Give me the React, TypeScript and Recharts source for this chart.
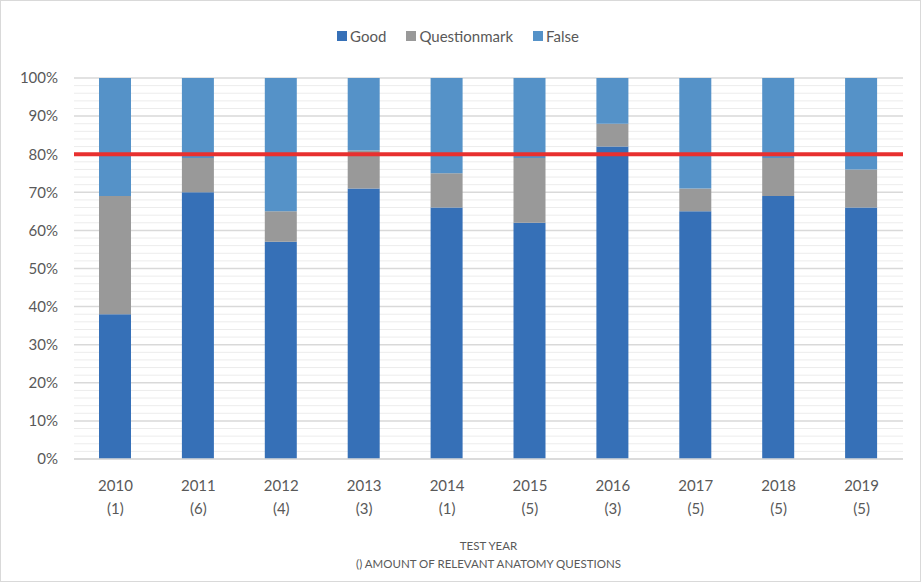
import {
  Bar,
  BarChart,
  CartesianGrid,
  Label,
  Legend,
  ReferenceLine,
  XAxis,
  YAxis,
} from "recharts";

const YEARS = ["2010", "2011", "2012", "2013", "2014", "2015", "2016", "2017", "2018", "2019"];
const QUESTION_COUNTS = ["(1)", "(6)", "(4)", "(3)", "(1)", "(5)", "(3)", "(5)", "(5)", "(5)"];
const GOOD = [38, 70, 57, 71, 66, 62, 82, 65, 69, 66];
const QUESTIONMARK = [31, 9, 8, 10, 9, 17, 6, 6, 10, 10];
const FALSE_PCT = [31, 21, 35, 19, 25, 21, 12, 29, 21, 24];
const Y_TICKS = [0, 10, 20, 30, 40, 50, 60, 70, 80, 90, 100];
const MINOR_TICKS = [2, 4, 6, 8, 12, 14, 16, 18, 22, 24, 26, 28, 32, 34, 36, 38, 42, 44, 46, 48, 52, 54, 56, 58, 62, 64, 66, 68, 72, 74, 76, 78, 82, 84, 86, 88, 92, 94, 96, 98];
const TARGET = 80;

const SERIES = [
  { key: "Good", color: "#3670b7" },
  { key: "Questionmark", color: "#999999" },
  { key: "False", color: "#5592c8" },
];

const FONT = "Lato, 'Open Sans', sans-serif";
const TEXT_COLOR = "#595959";

const data = YEARS.map((year, i) => ({
  year,
  count: QUESTION_COUNTS[i],
  Good: GOOD[i],
  Questionmark: QUESTIONMARK[i],
  False: FALSE_PCT[i],
}));

function YearTick({ x, y, payload, index }: any) {
  return (
    <g transform={`translate(${x},${y})`}>
      <text textAnchor="middle" fontSize={15} fill={TEXT_COLOR} fontFamily={FONT}>
        <tspan x={0} dy={24}>{payload.value}</tspan>
        <tspan x={0} dy={23}>{QUESTION_COUNTS[index]}</tspan>
      </text>
    </g>
  );
}

function AxisTitle({ viewBox }: any) {
  const cx = viewBox.x + viewBox.width / 2;
  return (
    <text textAnchor="middle" fontSize={11.5} fill={TEXT_COLOR} fontFamily={FONT}>
      <tspan x={cx} y={viewBox.y + 91}>TEST YEAR</tspan>
      <tspan x={cx} y={viewBox.y + 109}>() AMOUNT OF RELEVANT ANATOMY QUESTIONS</tspan>
    </text>
  );
}

function LegendContent() {
  return (
    <div
      style={{
        display: "flex",
        justifyContent: "center",
        gap: 20,
        fontFamily: FONT,
        fontSize: 15,
        color: TEXT_COLOR,
        paddingLeft: 12,
      }}
    >
      {SERIES.map((s) => (
        <div key={s.key} style={{ display: "flex", alignItems: "center" }}>
          <span style={{ width: 10, height: 10, background: s.color, marginRight: 3 }} />
          <span>{s.key}</span>
        </div>
      ))}
    </div>
  );
}

function minorLines({ yAxis, offset }: any) {
  if (yAxis && typeof yAxis.scale === "function") {
    return MINOR_TICKS.map((v) => yAxis.scale(v));
  }
  return MINOR_TICKS.map((v) => offset.top + offset.height * (1 - v / 100));
}

export default function App() {
  return (
    <div
      style={{
        position: "absolute",
        left: 0,
        top: 0,
        width: 919,
        height: 580,
        border: "1px solid #d9d9d9",
        background: "#fff",
      }}
    >
      <BarChart
        width={919}
        height={580}
        data={data}
        margin={{ top: 58, right: 17, left: 0, bottom: 18 }}
        barSize={32}
      >
        <CartesianGrid
          vertical={false}
          stroke="#ececec"
          strokeWidth={1}
          horizontalCoordinatesGenerator={minorLines}
        />
        <CartesianGrid vertical={false} stroke="#d9d9d9" strokeWidth={1.5} />
        <XAxis
          dataKey="year"
          tick={<YearTick />}
          tickLine={false}
          axisLine={{ stroke: "#d9d9d9", strokeWidth: 1.5 }}
          height={104}
          interval={0}
        >
          <Label content={<AxisTitle />} />
        </XAxis>
        <YAxis
          domain={[0, 100]}
          ticks={Y_TICKS}
          tickFormatter={(v: number) => `${v}%`}
          tick={{ fontSize: 15, fill: TEXT_COLOR, fontFamily: FONT }}
          tickLine={false}
          axisLine={false}
          tickMargin={10}
          width={73}
        />
        <Legend
          verticalAlign="top"
          align="center"
          height={19}
          content={<LegendContent />}
          wrapperStyle={{ top: 26 }}
        />
        {SERIES.map((s) => (
          <Bar key={s.key} dataKey={s.key} stackId="a" fill={s.color} isAnimationActive={false} />
        ))}
        <ReferenceLine y={TARGET} stroke="#e8302f" strokeWidth={4} />
      </BarChart>
    </div>
  );
}
